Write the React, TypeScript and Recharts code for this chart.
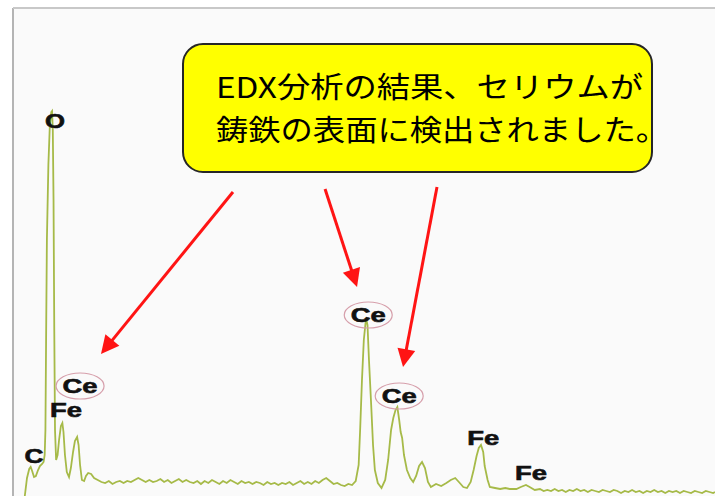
import React from 'react';
import { LineChart, Line, XAxis, YAxis, ReferenceArea, ReferenceLine, ReferenceDot } from 'recharts';

// ---- spectrum data (energy in keV, counts) ----
const lowEnergy = [
  0.21, 0.24, 0.27, 0.29, 0.31, 0.335, 0.36, 0.39, 0.415, 0.445,
  0.465, 0.48, 0.49, 0.5, 0.51, 0.53, 0.55, 0.57, 0.58, 0.59,
  0.6, 0.61, 0.62, 0.635, 0.655, 0.675, 0.7, 0.72, 0.735, 0.755,
  0.78, 0.81, 0.835, 0.865, 0.89, 0.92, 0.94, 0.96, 0.985, 1.015,
  1.04, 1.07, 1.11, 1.15,
];
const lowCounts = [
  0, 36, 54, 58, 50, 38, 40, 52, 60, 64,
  68, 82, 132, 332, 512, 662, 742, 768, 770, 732,
  592, 332, 132, 72, 82, 112, 140, 146, 128, 82,
  48, 38, 56, 88, 110, 118, 102, 62, 32, 30,
  40, 46, 44, 36,
];

const midEnergy = [
  1.2, 1.25, 1.3, 1.35, 1.4, 1.45, 1.5, 1.55, 1.6, 1.65,
  1.7, 1.75, 1.8, 1.85, 1.9, 1.95, 2.0, 2.05, 2.1, 2.15,
  2.2, 2.25, 2.3, 2.35, 2.4, 2.45, 2.5, 2.55, 2.6, 2.65,
  2.7, 2.75, 2.8, 2.85, 2.9, 2.95, 3.0, 3.05, 3.1, 3.15,
  3.2, 3.25, 3.3, 3.35, 3.4, 3.45, 3.5, 3.55, 3.6, 3.65,
  3.7, 3.75, 3.8, 3.85, 3.9, 3.95, 4.0, 4.05, 4.1, 4.15,
  4.2, 4.25, 4.3, 4.35, 4.4, 4.45, 4.5, 4.55, 4.6, 4.65,
];
const midCounts = [
  32, 28, 26, 30, 24, 28, 30, 26, 30, 28,
  32, 36, 32, 28, 32, 28, 30, 34, 28, 32,
  26, 30, 34, 28, 32, 28, 26, 30, 24, 30,
  26, 32, 28, 24, 30, 26, 32, 28, 24, 30,
  26, 28, 24, 28, 26, 22, 28, 24, 26, 22,
  26, 24, 28, 22, 26, 30, 24, 28, 24, 30,
  26, 32, 36, 30, 24, 26, 22, 20, 24, 22,
];

const ceEnergy = [
  4.7, 4.74, 4.76, 4.785, 4.81, 4.84, 4.86, 4.88, 4.91, 4.935,
  4.96, 5.0, 5.05, 5.1, 5.14, 5.18, 5.21, 5.24, 5.265, 5.29,
  5.31, 5.33, 5.355, 5.395, 5.44, 5.48, 5.52, 5.56, 5.6, 5.64,
  5.68, 5.72, 5.79, 5.86, 5.93, 5.99, 6.05, 6.1, 6.16, 6.21,
  6.26, 6.3, 6.34, 6.37, 6.4, 6.43, 6.45, 6.49, 6.52, 6.59,
  6.66, 6.73, 6.79, 6.88, 6.94, 7.01, 7.06, 7.13,
];
const ceCounts = [
  30, 62, 132, 232, 312, 356, 342, 272, 182, 102,
  52, 26, 16, 32, 72, 132, 156, 172, 178, 152,
  128, 116, 82, 52, 36, 28, 40, 60, 68, 56,
  28, 18, 24, 20, 26, 32, 36, 28, 18, 16,
  28, 52, 80, 96, 102, 88, 60, 32, 18, 16,
  14, 16, 14, 14, 18, 22, 18, 12,
];

const tailEnergy = [
  7.2, 7.25, 7.3, 7.35, 7.4, 7.45, 7.5, 7.55, 7.6, 7.65,
  7.7, 7.75, 7.8, 7.85, 7.9, 7.95, 8.0, 8.05, 8.1, 8.15,
  8.2, 8.25, 8.3, 8.35, 8.4, 8.45, 8.5, 8.55, 8.6, 8.65,
  8.7, 8.75, 8.8, 8.85, 8.9, 8.95, 9.0, 9.05, 9.1, 9.15,
  9.2, 9.25, 9.3, 9.35, 9.4, 9.45, 9.5, 9.55, 9.575,
];
const tailCounts = [
  14, 10, 12, 10, 14, 10, 12, 8, 12, 10,
  14, 10, 12, 8, 12, 10, 8, 12, 10, 8,
  12, 10, 6, 10, 8, 12, 8, 10, 6, 10,
  8, 12, 8, 10, 6, 10, 8, 10, 6, 10,
  8, 6, 10, 8, 6, 10, 8, 6, 8,
];

// ---- annotations ----
const peakLabels = [
  { text: 'O', energy: 0.62, count: 750, circled: false },
  { text: 'C', energy: 0.335, count: 80, circled: false },
  { text: 'Fe', energy: 0.77, count: 172, circled: false },
  { text: 'Ce', energy: 0.96, count: 220, circled: true },
  { text: 'Ce', energy: 4.87, count: 362, circled: true },
  { text: 'Ce', energy: 5.29, count: 200, circled: true },
  { text: 'Fe', energy: 6.43, count: 116, circled: false },
  { text: 'Fe', energy: 7.08, count: 46, circled: false },
];

const arrows = [
  { from: { energy: 3.035, count: 608 }, to: { energy: 1.244, count: 284 } },
  { from: { energy: 4.284, count: 614 }, to: { energy: 4.718, count: 418 } },
  { from: { energy: 5.803, count: 618 }, to: { energy: 5.342, count: 258 } },
];

const calloutLines = ['EDX分析の結果、セリウムが', '鋳鉄の表面に検出されました。'];

const X_DOMAIN: [number, number] = [0.05, 9.575];
const Y_DOMAIN: [number, number] = [0, 976];

const data = [
  ...lowEnergy.map((e, i) => ({ energy: e, counts: lowCounts[i] })),
  ...midEnergy.map((e, i) => ({ energy: e, counts: midCounts[i] })),
  ...ceEnergy.map((e, i) => ({ energy: e, counts: ceCounts[i] })),
  ...tailEnergy.map((e, i) => ({ energy: e, counts: tailCounts[i] })),
];

const labelWidth: Record<string, number> = { O: 20, C: 19, Fe: 32, Ce: 35 };

const makeLabelShape = (text: string, circled: boolean) => (props: any) => {
  const { cx, cy } = props;
  return (
    <g>
      {circled && (
        <ellipse cx={cx} cy={cy} rx={24} ry={13} fill="none" stroke="#d69fab" strokeWidth={1.2} />
      )}
      <text
        x={cx}
        y={cy + 7}
        textAnchor="middle"
        fontFamily="'Liberation Sans', Arial, sans-serif"
        fontWeight="bold"
        fontSize={19.5}
        fill="#111"
        stroke="#111"
        strokeWidth={0.6}
        textLength={labelWidth[text]}
        lengthAdjust="spacingAndGlyphs"
      >
        {text}
      </text>
    </g>
  );
};

const ArrowShape = (props: any) => {
  const { x1, y1, x2, y2 } = props;
  const dx = x2 - x1;
  const dy = y2 - y1;
  const len = Math.hypot(dx, dy) || 1;
  const ux = dx / len;
  const uy = dy / len;
  const head = 18;
  const half = 9;
  const bx = x2 - ux * head;
  const by = y2 - uy * head;
  return (
    <g>
      <line x1={x1} y1={y1} x2={bx + ux * 2} y2={by + uy * 2} stroke="#ff1414" strokeWidth={3} />
      <polygon
        points={`${x2},${y2} ${bx - uy * half},${by + ux * half} ${bx + uy * half},${by - ux * half}`}
        fill="#ff1414"
      />
    </g>
  );
};

export default function App() {
  return (
    <div style={{ position: 'absolute', left: 0, top: 0, width: 722, height: 496, background: '#ffffff' }}>
      <LineChart
        width={722}
        height={496}
        data={data}
        margin={{ top: 8, right: 7, bottom: 0, left: 13 }}
      >
        <XAxis dataKey="energy" type="number" domain={X_DOMAIN} hide allowDataOverflow />
        <YAxis type="number" domain={Y_DOMAIN} hide allowDataOverflow />
        <ReferenceArea
          x1={X_DOMAIN[0]}
          x2={X_DOMAIN[1]}
          y1={Y_DOMAIN[0]}
          y2={Y_DOMAIN[1]}
          fill="#fafafa"
          fillOpacity={1}
          stroke="none"
        />
        <ReferenceLine x={X_DOMAIN[0]} stroke="#b4b4b4" strokeWidth={2} />
        <ReferenceLine y={Y_DOMAIN[1]} stroke="#c8c8c8" strokeWidth={2} />
        <Line
          type="linear"
          dataKey="counts"
          stroke="#a6ba48"
          strokeWidth={1.8}
          dot={false}
          isAnimationActive={false}
        />
        {arrows.map((a, i) => (
          <ReferenceLine
            key={`arrow-${i}`}
            segment={[
              { x: a.from.energy, y: a.from.count },
              { x: a.to.energy, y: a.to.count },
            ]}
            ifOverflow="visible"
            shape={ArrowShape}
          />
        ))}
        {peakLabels.map((p, i) => (
          <ReferenceDot
            key={`lbl-${i}`}
            x={p.energy}
            y={p.count}
            r={0}
            ifOverflow="visible"
            shape={makeLabelShape(p.text, p.circled)}
          />
        ))}
      </LineChart>
      <svg
        width={722}
        height={496}
        style={{ position: 'absolute', left: 0, top: 0, pointerEvents: 'none' }}
      >
        <rect x={183} y={44} width={469} height={128} rx={20} ry={20} fill="#ffff00" stroke="#262626" strokeWidth={2} />
        <text fontFamily="'Noto Sans CJK JP', sans-serif" fontSize={29} fill="#000">
          <tspan x={216} y={98} textLength={427} lengthAdjust="spacingAndGlyphs">
            {calloutLines[0]}
          </tspan>
          <tspan x={216} y={140.5} textLength={452} lengthAdjust="spacingAndGlyphs">
            {calloutLines[1]}
          </tspan>
        </text>
      </svg>
    </div>
  );
}
